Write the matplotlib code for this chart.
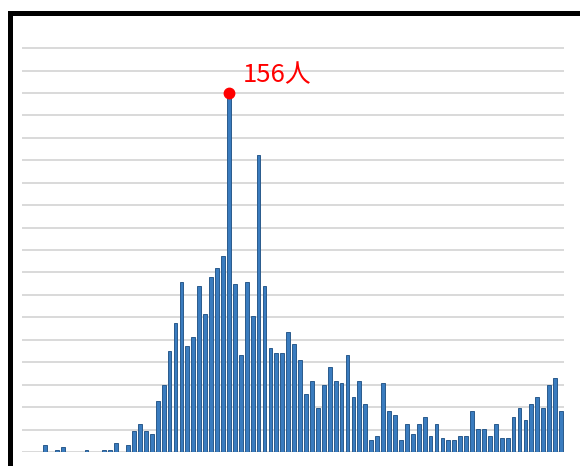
import matplotlib.pyplot as plt
from matplotlib.patches import Rectangle
import numpy as np

plt.rcParams['font.family'] = ['Noto Sans CJK JP', 'DejaVu Sans']

# daily counts (people)
counts = [3, 0, 1, 2, 0, 0, 0, 1, 0, 0,
          1, 1, 4, 0, 3, 9, 12, 9, 8, 22,
          29, 44, 56, 74, 46, 50, 72, 60, 76, 80,
          85, 156, 73, 42, 74, 59, 129, 72, 45, 43,
          43, 52, 47, 40, 25, 31, 19, 29, 37, 31,
          30, 42, 24, 31, 21, 5, 7, 30, 18, 16,
          5, 12, 8, 12, 15, 7, 12, 6, 5, 5,
          7, 7, 18, 10, 10, 7, 12, 6, 6, 15,
          19, 14, 21, 24, 19, 29, 32, 18]
peakLabel = "156人"
gridStep = 9.75


def graph(values):
    fig = plt.figure(figsize=(5.8, 4.66), dpi=100)
    ax = fig.add_axes([22 / 580, 14 / 466, 542 / 580, 432 / 466])

    x = np.arange(len(values))
    ax.bar(x, values, width=0.64, color='#3a7cbf', edgecolor='#2a5a8c', linewidth=0.7, zorder=2)

    peak = int(np.argmax(values))
    ax.plot(peak, values[peak], 'o', color='#ff0000', markersize=7.5, zorder=3)
    ax.annotate(peakLabel, (peak, values[peak]), xytext=(10, 12.5), textcoords='offset points',
                ha='left', va='center', color='#ff0000', fontsize=18.5)

    ax.set_xlim(-3.88, 87.5)
    ax.set_ylim(0, 187.7)
    ax.set_yticks(np.arange(0, 19) * gridStep)
    ax.yaxis.grid(True, color='#d9d9d9', linewidth=1.4, zorder=0)
    ax.set_axisbelow(True)
    ax.tick_params(left=False, bottom=False, labelleft=False, labelbottom=False)
    for s in ax.spines.values():
        s.set_visible(False)

    # black frame around the chart (top and left visible)
    frame = Rectangle((9.5 / 580, -0.1), 1.0, 1 - 12.5 / 466 + 0.1, transform=fig.transFigure,
                      fill=False, edgecolor='black', linewidth=3.6)
    fig.patches.append(frame)

    fig.savefig('out.png', dpi=100)


if __name__ == '__main__':
    graph(counts)
